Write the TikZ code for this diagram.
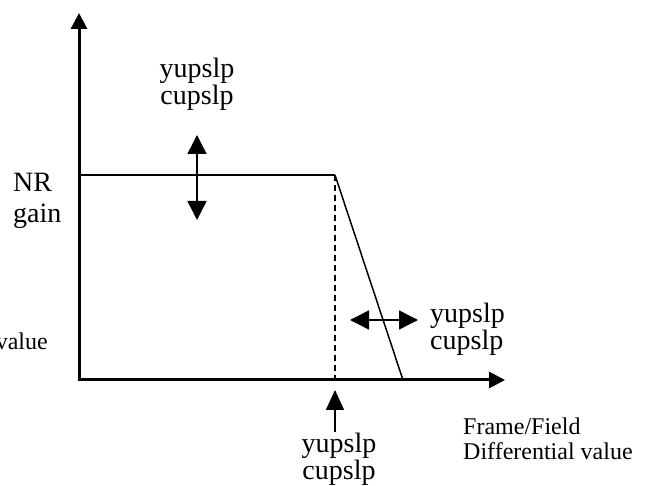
\documentclass[tikz,border=0pt]{standalone}
\usepackage{fontspec}
\setmainfont{Liberation Serif}
\usetikzlibrary{arrows.meta}
\begin{document}
\begin{tikzpicture}[x=1pt,y=-1pt,
  axis/.style={line width=3pt,-{Triangle[length=16pt,width=16pt]}},
  thin/.style={line width=1.5pt},
  dbl/.style={line width=1.5pt,{Triangle[length=19pt,width=19pt]}-{Triangle[length=19pt,width=19pt]}},
  big/.style={font=\fontsize{28}{28}\selectfont,inner sep=0pt},
  small/.style={font=\fontsize{24}{25}\selectfont,inner sep=0pt}]
\useasboundingbox (0,0) rectangle (646,486);
\coordinate (o) at (79,380);
\coordinate (ytop) at (79,13);
\coordinate (xend) at (505,380);
\coordinate (k) at (335,175);
\coordinate (kb) at (335,380);
\coordinate (e) at (403,380);
\draw[thin] (79,175) -- (k);
\draw[thin,dashed,dash pattern=on 6pt off 4pt] (k) -- (kb);
\draw[thin] (k) -- (e);
\draw[axis,line cap=rect] (o) -- (ytop);
\draw[axis] (o) -- (xend);
\coordinate (va) at (197,135);
\coordinate (vb) at (197,220);
\draw[dbl] (va) -- (vb);
\coordinate (ha) at (350,320);
\coordinate (hb) at (418,320);
\draw[dbl] (ha) -- (hb);
\coordinate (ua) at (335,432);
\coordinate (ub) at (335,390);
\draw[thin,-{Triangle[length=20pt,width=18pt]}] (ua) -- (ub);
\node[big,anchor=base] (t1a) at (197,78) {yupslp};
\node[big,anchor=base] (t1b) at (197,105) {cupslp};
\node[big,anchor=base west] (nr1) at (13,192) {NR};
\node[big,anchor=base west] (nr2) at (13,223) {gain};
\node[big,anchor=base west] (t2a) at (430,323) {yupslp};
\node[big,anchor=base west] (t2b) at (430,350) {cupslp};
\node[big,anchor=base] (t3a) at (339,453) {yupslp};
\node[big,anchor=base] (t3b) at (339,480) {cupslp};
\node[small,anchor=base west] (xl1) at (463,435) {Frame/Field};
\node[small,anchor=base west] (xl2) at (463,460) {Differential value};
\node[small,anchor=base east] (vl) at (48,350) {value};
\end{tikzpicture}
\end{document}
